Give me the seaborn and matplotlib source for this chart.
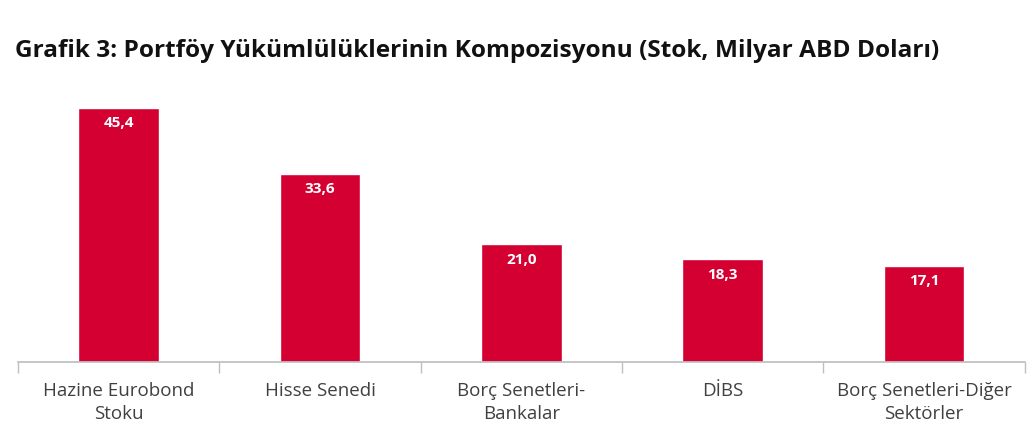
import matplotlib
matplotlib.use("Agg")
import matplotlib.pyplot as plt
import seaborn as sns
import numpy as np

categories = ["Hazine Eurobond\nStoku", "Hisse Senedi", "Borç Senetleri-\nBankalar", "DİBS", "Borç Senetleri-Diğer\nSektörler"]
values = [45.4, 33.6, 21.0, 18.3, 17.1]
labels = ["45,4", "33,6", "21,0", "18,3", "17,1"]

sns.set_theme(style="white")
plt.rcParams['font.family'] = ['Open Sans', 'DejaVu Sans']

fig = plt.figure(figsize=(10.35, 4.35), dpi=100)
ax = fig.add_axes([0.0174, 0.1655, 0.9726, 0.644])
sns.barplot(x=list(range(len(values))), y=values, color="#D50032", saturation=1, width=0.4, ax=ax)
for i, (v, l) in enumerate(zip(values, labels)):
    ax.text(i, v - 1.3, l, ha="center", va="top", color="white", fontsize=11, fontweight="bold")
ax.set_xlim(-0.5, len(values) - 0.5)
ax.set_ylim(0, 50)
ax.set_xticks(range(len(values)))
ax.set_xticklabels(categories, fontsize=13.5, color="#404040", linespacing=1.3)
ax.set_xticks(np.arange(-0.5, len(values), 1), minor=True)
ax.tick_params(axis="x", which="major", length=0, pad=14)
ax.tick_params(axis="x", which="minor", length=8, color="#bfbfbf", width=1, bottom=True)
ax.set_yticks([])
ax.set_xlabel(""); ax.set_ylabel("")
for s in ["top", "right", "left"]:
    ax.spines[s].set_visible(False)
ax.spines["bottom"].set_color("#bfbfbf")
fig.text(0.0145, 0.882, "Grafik 3: Portföy Yükümlülüklerinin Kompozisyonu (Stok, Milyar ABD Doları)",
         fontsize=17.6, fontweight="bold", color="#111111", va="center")
fig.savefig("out.png", dpi=100, facecolor="white")
